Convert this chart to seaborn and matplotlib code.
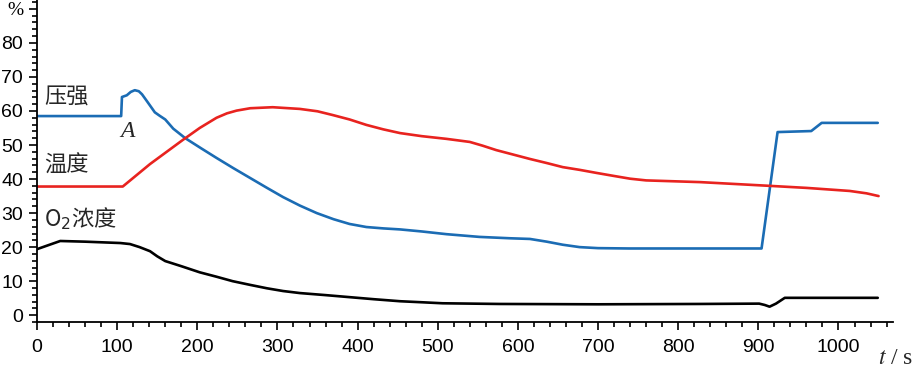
import numpy as np
import pandas as pd
import matplotlib
matplotlib.use("Agg")
import matplotlib.pyplot as plt
from matplotlib.ticker import MultipleLocator
import seaborn as sns

# pressure (压强), %
pressure_t = [0, 105, 106, 112, 117, 122, 127, 131, 138, 147, 153, 160, 170, 185,
              205, 224, 245, 266, 287, 307, 328, 349, 370, 390, 411, 432, 453,
              480, 511, 552, 590, 615, 636, 656, 677, 700, 739, 904, 924, 966,
              979, 1049]
pressure_v = [58.5, 58.5, 64.1, 64.6, 65.6, 66.1, 65.8, 64.9, 62.6, 59.6, 58.6,
              57.5, 54.8, 52.0, 49.0, 46.2, 43.2, 40.3, 37.4, 34.7, 32.2, 30.0,
              28.2, 26.8, 25.9, 25.5, 25.2, 24.6, 23.8, 23.0, 22.6, 22.4, 21.6,
              20.7, 20.0, 19.7, 19.6, 19.6, 53.8, 54.1, 56.5, 56.5]

# temperature (温度), %
temp_t = [0, 107, 141, 182, 203, 224, 237, 249, 266, 294, 328, 350, 369, 390,
          411, 432, 453, 480, 511, 540, 556, 573, 594, 615, 636, 656, 677, 698,
          720, 740, 760, 827, 914, 960, 1014, 1035, 1050]
temp_v = [37.8, 37.8, 44.4, 51.5, 55.0, 58.0, 59.3, 60.1, 60.8, 61.1, 60.6,
          59.9, 58.8, 57.5, 55.9, 54.6, 53.5, 52.6, 51.8, 50.9, 49.8, 48.5,
          47.2, 45.9, 44.7, 43.5, 42.7, 41.8, 40.9, 40.1, 39.6, 39.1, 38.0,
          37.4, 36.5, 35.8, 35.0]

# oxygen concentration (O2浓度), %
o2_t = [0, 29, 60, 104, 116, 128, 141, 150, 160, 180, 203, 224, 244, 266, 287,
        307, 328, 360, 390, 420, 453, 480, 506, 577, 700, 827, 901, 908, 914,
        922, 933, 1049]
o2_v = [19.4, 21.8, 21.6, 21.2, 20.9, 20.0, 18.8, 17.3, 15.9, 14.4, 12.6, 11.3,
        10.0, 8.9, 7.9, 7.1, 6.5, 5.9, 5.3, 4.7, 4.1, 3.8, 3.5, 3.3, 3.2, 3.3,
        3.4, 3.0, 2.5, 3.4, 5.1, 5.1]

x_ticks = list(range(0, 1001, 100))
y_ticks = list(range(0, 91, 10))
y_tick_labels = [str(v) for v in range(0, 81, 10)] + ["%"]

BLUE = "#1b6cb4"
RED = "#e8231f"
BLACK = "#000000"

sns.set_style("ticks")
plt.rcParams["font.family"] = ["Liberation Sans", "Noto Sans CJK SC", "DejaVu Sans"]

fig = plt.figure(figsize=(9.17, 3.71), dpi=100)
ax = fig.add_axes([37 / 917, 1 - 322 / 371, (893 - 37) / 917, 322 / 371])

series = [
    (pressure_t, pressure_v, BLUE),
    (temp_t, temp_v, RED),
    (o2_t, o2_v, BLACK),
]
for t, v, c in series:
    df = pd.DataFrame({"t": t, "v": v})
    sns.lineplot(data=df, x="t", y="v", ax=ax, color=c, linewidth=1.9,
                 sort=False, estimator=None)

ax.set_xlim(0, 1068)
ax.set_ylim(-2, 92.6)
ax.set_xlabel("")
ax.set_ylabel("")
sns.despine(ax=ax)
for s in ["left", "bottom"]:
    ax.spines[s].set_linewidth(1.3)
    ax.spines[s].set_color("black")

ax.set_xticks(x_ticks)
ax.set_yticks(y_ticks)
ax.set_yticklabels(y_tick_labels)
ax.xaxis.set_minor_locator(MultipleLocator(20))
ax.yaxis.set_minor_locator(MultipleLocator(2))
ax.tick_params(axis="both", which="major", length=6, width=1.2, labelsize=14,
               colors="black")
ax.tick_params(axis="both", which="minor", length=3.5, width=1.2, colors="black")
ax.tick_params(axis="x", which="major", pad=6)
ax.tick_params(axis="y", which="major", pad=4)
pct = ax.get_yticklabels()[-1]
pct.set_fontfamily("Liberation Serif")
pct.set_fontsize(14)

cjk = ["Noto Sans CJK SC", "DejaVu Sans"]
ax.text(9, 64.4, "压强", fontsize=16, family=cjk, va="center", ha="left")
ax.text(9, 44.0, "温度", fontsize=16, family=cjk, va="center", ha="left")
ax.text(9, 28.4, "O$_2$浓度", fontsize=16, family=cjk, va="center", ha="left")
ax.text(113, 54.0, "A", fontsize=17, family="Liberation Serif", style="italic",
        va="center", ha="center")

fig.text(896 / 917, 1 - 359 / 371, "$t$ / s", fontsize=17, family="Liberation Serif",
         math_fontfamily="stix", ha="center", va="center")

fig.savefig("out.png", dpi=100, facecolor="white")
